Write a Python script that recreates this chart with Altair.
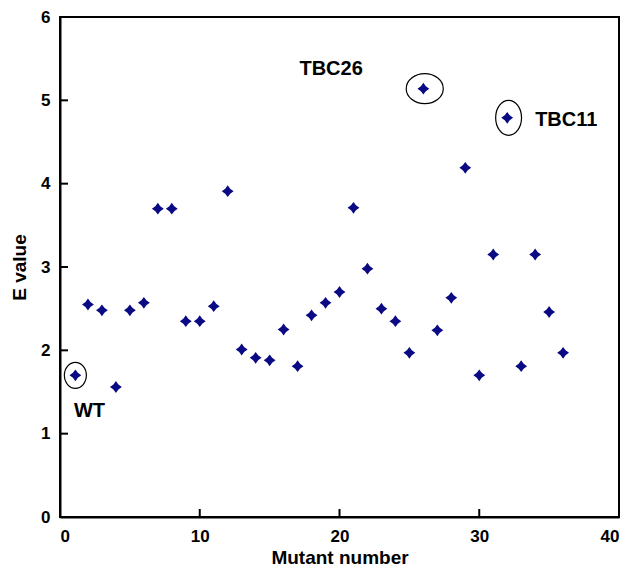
import altair as alt
import pandas as pd

# Mutant number and E value
mutant = [1.1, 2, 3, 4, 5, 6, 7, 8, 9, 10, 11, 12, 13, 14, 15, 16, 17, 18,
          19, 20, 21, 22, 23, 24, 25, 26, 27, 28, 29, 30, 31, 32, 33, 34, 35, 36]
e_value = [1.70, 2.55, 2.48, 1.56, 2.48, 2.57, 3.70, 3.70, 2.35, 2.35, 2.53, 3.91,
           2.01, 1.91, 1.88, 2.25, 1.81, 2.42, 2.57, 2.70, 3.71, 2.98, 2.50, 2.35,
           1.97, 5.14, 2.24, 2.63, 4.19, 1.70, 3.15, 4.79, 1.81, 3.15, 2.46, 1.97]

# highlighted points (ellipses) and their labels
hl_x = [1.1, 26.1, 32.1]
hl_y = [1.70, 5.14, 4.79]
hl_shape = [
    "M -0.846 0 A 0.846 1 0 1 0 0.846 0 A 0.846 1 0 1 0 -0.846 0 Z",
    "M -1 0 A 1 0.81 0 1 0 1 0 A 1 0.81 0 1 0 -1 0 Z",
    "M -0.74 0 A 0.74 1 0 1 0 0.74 0 A 0.74 1 0 1 0 -0.74 0 Z",
]
hl_size = [676, 1369, 1225]

lab_text = ["WT", "TBC26", "TBC11"]
lab_x = [1.0, 19.4, 34.0]
lab_y = [1.27, 5.38, 4.77]
lab_align = ["left", "center", "left"]

x_ticks = [0, 10, 20, 30, 40]
y_ticks = [0, 1, 2, 3, 4, 5, 6]

W, H = 559, 500
FONT = "Liberation Sans"

df = pd.DataFrame({"x": mutant, "y": e_value})
hl = pd.DataFrame({"x": hl_x, "y": hl_y, "shape": hl_shape, "size": hl_size})
labs = pd.DataFrame({"x": lab_x, "y": lab_y, "t": lab_text, "a": lab_align})

xs = alt.Scale(domain=[0, 40], nice=False)
ys = alt.Scale(domain=[0, 6], nice=False)

star = "M 0 -1 L 0.42 -0.42 L 1 0 L 0.42 0.42 L 0 1 L -0.42 0.42 L -1 0 L -0.42 -0.42 Z"

points = alt.Chart(df).mark_point(
    shape=star, filled=True, color="#0a0a84", size=140, opacity=1
).encode(
    x=alt.X("x:Q", scale=xs, title="Mutant number",
            axis=alt.Axis(values=x_ticks, format="d")),
    y=alt.Y("y:Q", scale=ys, title="E value",
            axis=alt.Axis(values=y_ticks, format="d")),
)

ellipses = alt.Chart(hl).mark_point(
    filled=False, color="black", strokeWidth=1.2, opacity=1
).encode(
    x=alt.X("x:Q", scale=xs),
    y=alt.Y("y:Q", scale=ys),
    shape=alt.Shape("shape:N", scale=None),
    size=alt.Size("size:Q", scale=None),
)

labels_left = alt.Chart(labs[labs["a"] == "left"]).mark_text(
    align="left", baseline="middle", font=FONT, fontSize=20, fontWeight="bold", color="black"
).encode(x=alt.X("x:Q", scale=xs), y=alt.Y("y:Q", scale=ys), text="t:N")
labels_center = alt.Chart(labs[labs["a"] == "center"]).mark_text(
    align="center", baseline="middle", font=FONT, fontSize=20, fontWeight="bold", color="black"
).encode(x=alt.X("x:Q", scale=xs), y=alt.Y("y:Q", scale=ys), text="t:N")

yt = alt.Chart(pd.DataFrame({"v": y_ticks[1:-1]})).mark_rule(
    color="black", strokeWidth=2
).encode(y=alt.Y("v:Q", scale=ys), x=alt.value(0), x2=alt.value(8))
xt = alt.Chart(pd.DataFrame({"v": x_ticks[1:-1]})).mark_rule(
    color="black", strokeWidth=2
).encode(x=alt.X("v:Q", scale=xs), y=alt.value(H), y2=alt.value(H - 8))

chart = alt.layer(points, ellipses, labels_left, labels_center, yt, xt).properties(
    width=W, height=H,
    autosize=alt.AutoSizeParams(type="none"),
    padding={"left": 52, "top": 9, "right": 1, "bottom": 52},
).configure_view(
    stroke="black", strokeWidth=2
).configure_axis(
    grid=False, ticks=False, domainColor="black", domainWidth=2,
    labelFont=FONT, labelFontSize=17, labelFontWeight="bold", labelColor="black",
    titleFont=FONT, titleFontSize=19, titleFontWeight="bold", titleColor="black",
).configure_axisX(
    labelPadding=11, titlePadding=4
).configure_axisY(
    labelPadding=10, titlePadding=11
)

chart.save("out.html", embed_options={"renderer": "svg", "actions": False})
